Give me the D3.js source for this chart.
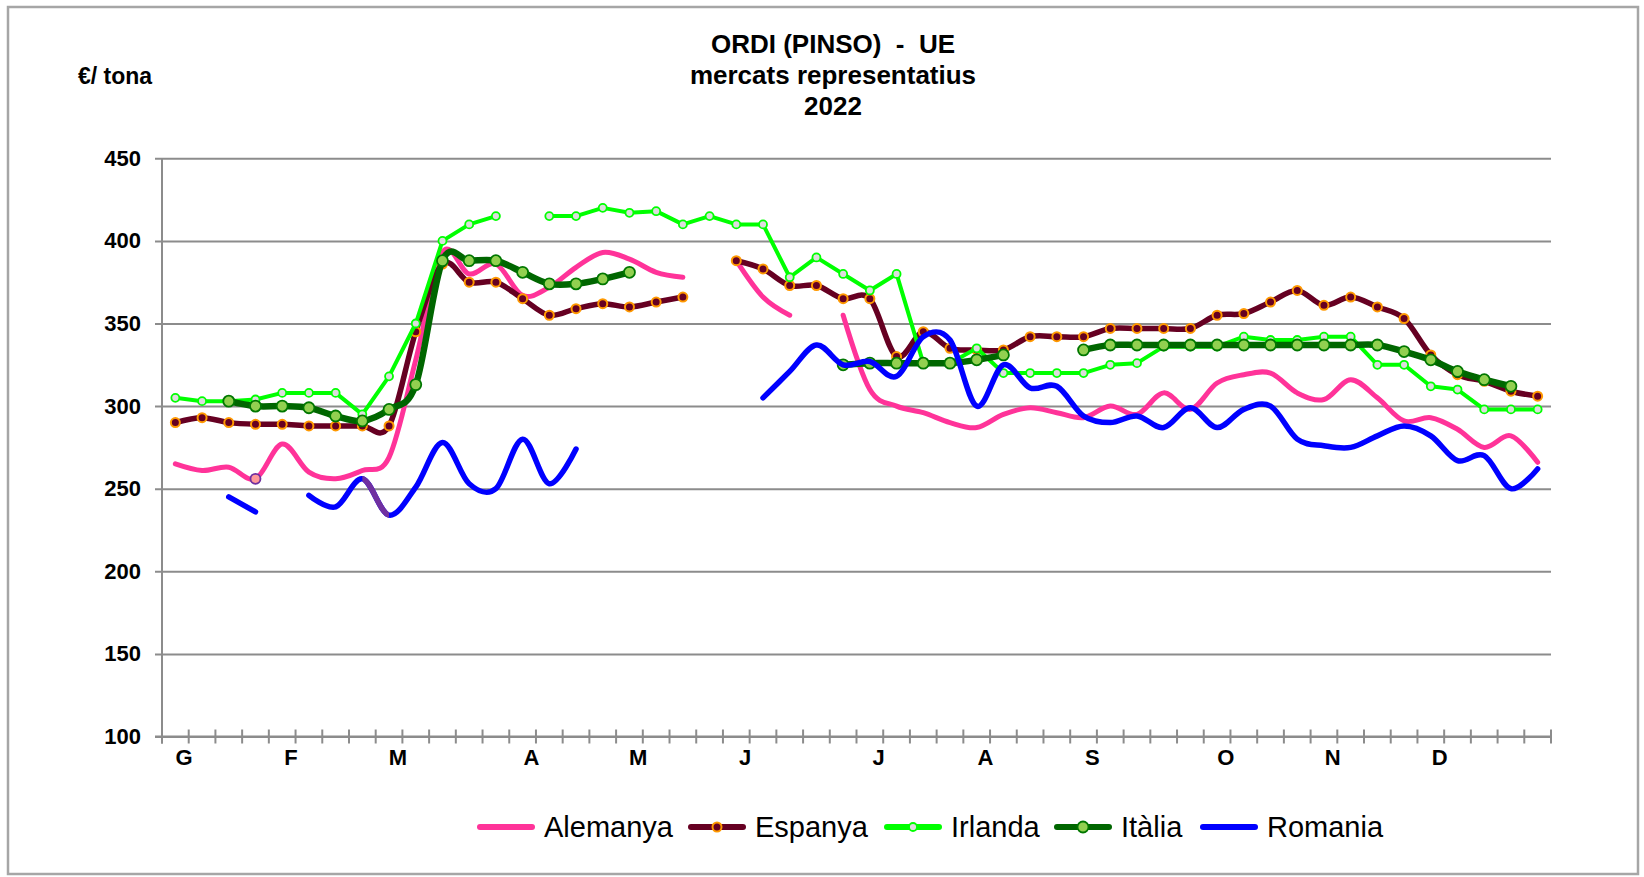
<!DOCTYPE html>
<html>
<head>
<meta charset="utf-8">
<script src="https://cdn.jsdelivr.net/npm/d3@7"></script>
<style>
  body { margin: 0; background: #fff; }
  text { font-family: "Liberation Sans", Arial, sans-serif; }
</style>
</head>
<body>
<div id="chart"></div>
<script>
// weekly prices, 52 weeks (null = no quote)
var weeks = d3.range(1, 53);

var monthLabels = ["G", "F", "M", "A", "M", "J", "J", "A", "S", "O", "N", "D"];
var monthWeeks = [0, 4, 8, 13, 17, 21, 26, 30, 34, 39, 43, 47];

var yTicks = [100, 150, 200, 250, 300, 350, 400, 450];

var alemanya = [265, 261, 263, 256, 277, 260, 256, 261, 269, 328, 393, 380, 386, 367, 372, 384, 393, 389, 381, 378,
	null, 388, 366, 355, null, 355, 310, 300, 296, 290, 287, 295, 299, 296, 293, 300, 295, 308, 298, 314,
	319, 320, 308, 304, 316, 305, 291, 293, 286, 275, 282, 266];

var espanya = [290, 293, 290, 289, 289, 288, 288, 288, 288, 345, 386, 375, 375, 365, 355, 359, 362, 360, 363, 366,
	null, 388, 383, 373, 373, 365, 365, 330, 345, 335, 334, 334, 342, 342, 342, 347, 347, 347, 347, 355,
	356, 363, 370, 361, 366, 360, 353, 331, 319, 315, 309, 306];

var irlanda = [305, 303, 303, 304, 308, 308, 308, 295, 318, 350, 400, 410, 415, null, 415, 415, 420, 417, 418, 410,
	415, 410, 410, 378, 390, 380, 370, 380, 326, 326, 335, 320, 320, 320, 320, 325, 326, 336, 336, 336,
	342, 340, 340, 342, 342, 325, 325, 312, 310, 298, 298, 298];

var italia = [null, null, 303, 300, 300, 299, 294, 291, 298, 313, 388, 388, 388, 381, 374, 374, 377, 381, null, null,
	null, null, null, null, null, 325, 326, 326, 326, 326, 328, 331, null, null, 334, 337, 337, 337, 337, 337,
	337, 337, 337, 337, 337, 337, 333, 328, 321, 316, 312, null];

var romania = [null, null, 245, 236, null, 246, 239, 256, 234, 251, 278, 253, 250, 280, 253, 274, null, null, null, null,
	null, null, 305, 321, 337, 325, 327, 318, 342, 340, 300, 325, 311, 312, 294, 290, 294, 287, 299, 287,
	298, 300, 280, 276, 275, 282, 288, 282, 267, 270, 250, 262];

var width = 1644;
var height = 877;

var smooth = d3.curveCardinal.tension(0);

var series = [
	{ name: "Alemanya", values: alemanya, color: "#FF3399", width: 5, curve: smooth, marker: null },
	{ name: "Espanya", values: espanya, color: "#660022", width: 5.5, curve: smooth,
		marker: { r: 4.5, fill: "#660022", stroke: "#FF9900", sw: 2 } },
	{ name: "Irlanda", values: irlanda, color: "#00FF00", width: 4, curve: d3.curveLinear,
		marker: { r: 4, fill: "#DDDDDD", stroke: "#00FF00", sw: 1.8 } },
	{ name: "Itàlia", values: italia, color: "#006600", width: 6.5, curve: smooth,
		marker: { r: 5.5, fill: "#92D050", stroke: "#007700", sw: 1.8 } },
	{ name: "Romania", values: romania, color: "#0000FF", width: 5.5, curve: smooth, marker: null }
];

var svg = d3.select("#chart").append("svg")
		.attr("width", width)
		.attr("height", height);

// outer frame
svg.append("rect")
		.attr("x", 8).attr("y", 7)
		.attr("width", 1630).attr("height", 867)
		.attr("fill", "none")
		.attr("stroke", "#A6A6A6")
		.attr("stroke-width", 2.5);

var x = d3.scaleBand()
		.domain(d3.range(weeks.length))
		.range([162, 1551])
		.padding(0);

var y = d3.scaleLinear()
		.domain([100, 450])
		.range([736.5, 158.3]);

function cx(i) { return x(i) + x.bandwidth() / 2; }

// titles
var title = svg.append("g").attr("font-weight", "bold").attr("font-size", 26).attr("text-anchor", "middle");
title.append("text").attr("x", 833).attr("y", 53).text("ORDI (PINSO)  -  UE").style("white-space", "pre");
title.append("text").attr("x", 833).attr("y", 84).text("mercats representatius");
title.append("text").attr("x", 833).attr("y", 115).text("2022");

svg.append("text")
		.attr("x", 78).attr("y", 84)
		.attr("font-weight", "bold")
		.attr("font-size", 23)
		.text("€/ tona");

// horizontal grid + y labels
var yAxis = d3.axisLeft(y)
		.tickValues(yTicks)
		.tickSize(-(1551 - 155))
		.tickPadding(14)
		.tickFormat(d3.format("d"));

var gy = svg.append("g")
		.attr("transform", "translate(155,0)")
		.call(yAxis);
gy.select(".domain").remove();
gy.selectAll(".tick line")
		.attr("stroke", "#8C8C8C")
		.attr("stroke-width", 2);
gy.selectAll(".tick text")
		.attr("font-family", "Liberation Sans, Arial, sans-serif")
		.attr("font-weight", "bold")
		.attr("font-size", 22)
		.attr("fill", "#000");

// axes lines
svg.append("line")
		.attr("x1", 162).attr("x2", 162)
		.attr("y1", y(450)).attr("y2", y(100) + 7)
		.attr("stroke", "#8C8C8C").attr("stroke-width", 2);

svg.append("line")
		.attr("x1", 155).attr("x2", 1551)
		.attr("y1", y(100)).attr("y2", y(100))
		.attr("stroke", "#8C8C8C").attr("stroke-width", 2);

svg.append("g").selectAll("line")
		.data(d3.range(weeks.length + 1))
		.enter().append("line")
		.attr("x1", function(k) { return 162 + k * x.bandwidth(); })
		.attr("x2", function(k) { return 162 + k * x.bandwidth(); })
		.attr("y1", y(100) - 7)
		.attr("y2", y(100) + 7)
		.attr("stroke", "#8C8C8C")
		.attr("stroke-width", 2);

svg.append("g").selectAll("text")
		.data(monthLabels)
		.enter().append("text")
		.attr("x", function(d, i) { return x(monthWeeks[i]) + x.bandwidth() * 0.83; })
		.attr("y", 765)
		.attr("text-anchor", "middle")
		.attr("font-weight", "bold")
		.attr("font-size", 22)
		.text(function(d) { return d; });

// series
var lineGen = function(curve) {
	return d3.line()
			.defined(function(d) { return d != null; })
			.x(function(d, i) { return cx(i); })
			.y(function(d) { return y(d); })
			.curve(curve);
};

var plot = svg.append("g");

svg.append("clipPath").attr("id", "purpleClip")
		.append("rect")
		.attr("x", cx(7)).attr("y", 0)
		.attr("width", cx(8) - cx(7)).attr("height", height);

series.forEach(function(s) {
	plot.append("path")
			.attr("d", lineGen(s.curve)(s.values))
			.attr("fill", "none")
			.attr("stroke", s.color)
			.attr("stroke-width", s.width)
			.attr("stroke-linejoin", "round")
			.attr("stroke-linecap", "round");

	if (s.name === "Romania") {
		// one segment of this series is formatted purple in the source
		plot.append("path")
				.attr("d", lineGen(s.curve)(s.values))
				.attr("clip-path", "url(#purpleClip)")
				.attr("fill", "none")
				.attr("stroke", "#7030A0")
				.attr("stroke-width", s.width);
	}

	if (s.name === "Alemanya") {
		plot.append("circle")
				.attr("cx", cx(3)).attr("cy", y(s.values[3]))
				.attr("r", 5)
				.attr("fill", "#FF9999")
				.attr("stroke", "#7030A0")
				.attr("stroke-width", 1.8);
	}

	if (s.marker) {
		var m = s.marker;
		plot.append("g").selectAll("circle")
				.data(s.values.map(function(v, i) { return { v: v, i: i }; })
					.filter(function(d) { return d.v != null; }))
				.enter().append("circle")
				.attr("cx", function(d) { return cx(d.i); })
				.attr("cy", function(d) { return y(d.v); })
				.attr("r", m.r)
				.attr("fill", m.fill)
				.attr("stroke", m.stroke)
				.attr("stroke-width", m.sw);
	}
});

// legend
var legendX = [480, 691, 887, 1057, 1203];
var legend = svg.append("g");
series.forEach(function(s, i) {
	var g = legend.append("g").attr("transform", "translate(" + legendX[i] + ",827)");
	g.append("line")
			.attr("x1", 0).attr("x2", 52)
			.attr("stroke", s.color)
			.attr("stroke-width", 6)
			.attr("stroke-linecap", "round");
	if (s.marker) {
		g.append("circle")
				.attr("cx", 26)
				.attr("r", s.marker.r)
				.attr("fill", s.marker.fill)
				.attr("stroke", s.marker.stroke)
				.attr("stroke-width", s.marker.sw);
	}
	g.append("text")
			.attr("x", 64)
			.attr("y", 10)
			.attr("font-size", 29)
			.text(s.name);
});
</script>
</body>
</html>
